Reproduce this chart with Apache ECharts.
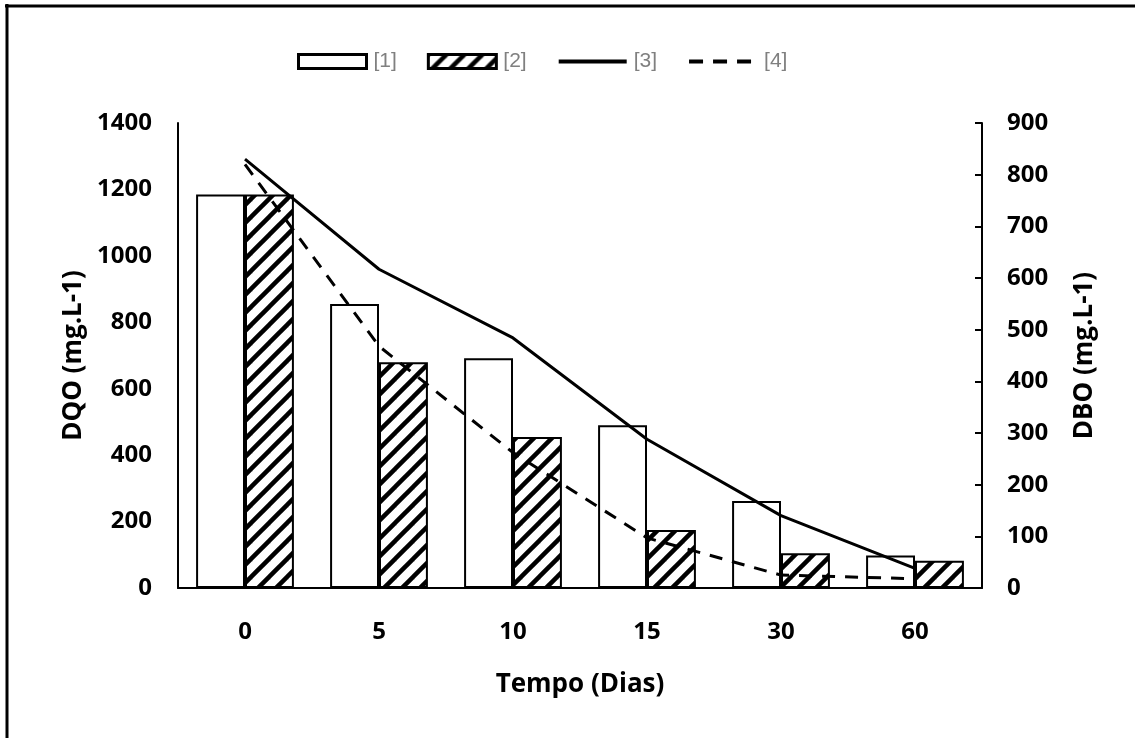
<!DOCTYPE html>
<html>
<head>
<meta charset="utf-8">
<script src="https://cdn.jsdelivr.net/npm/echarts@6/dist/echarts.min.js"></script>
<style>html,body{margin:0;padding:0;background:#fff}#c{width:1135px;height:738px}</style>
</head>
<body>
<div id="c"></div>
<script>
const categories = ['0', '5', '10', '15', '30', '60'];
const dqo1 = [1185, 855, 692, 490, 262, 98];
const dqo2 = [1185, 680, 455, 175, 105, 82];
const dbo3 = [830, 617, 484, 288, 140, 38];
const dbo4 = [820, 468, 262, 97, 25, 18];
const seriesNames = ['[1]', '[2]', '[3]', '[4]'];

const tile = document.createElement('canvas');
tile.width = 18; tile.height = 18;
const g = tile.getContext('2d');
g.fillStyle = '#fff'; g.fillRect(0, 0, 18, 18);
g.strokeStyle = '#000'; g.lineWidth = 4.5;
[[0, 18, 18, 0], [-9, 9, 9, -9], [9, 27, 27, 9]].forEach(p => {
  g.beginPath(); g.moveTo(p[0], p[1]); g.lineTo(p[2], p[3]); g.stroke();
});

const font = 'Open Sans';
const noSep = v => String(v);
const hidden = { color: 'rgba(0,0,0,0)', borderColor: 'rgba(0,0,0,0)', borderWidth: 0 };
const titleStyle = { fontSize: 26, fontWeight: 'bold', fontFamily: font, color: '#000' };
const labelStyle = { fontSize: 24, fontWeight: 'bold', fontFamily: font, color: '#000' };
const chart = echarts.init(document.getElementById('c'));
chart.setOption({
  backgroundColor: '#fff',
  animation: false,
  graphic: [
    { type: 'line', shape: { x1: 7, y1: 4, x2: 7, y2: 738 }, style: { stroke: '#000', lineWidth: 3 } },
    { type: 'line', shape: { x1: 5, y1: 6, x2: 1135, y2: 6 }, style: { stroke: '#000', lineWidth: 3 } }
  ],
  legend: {
    left: 292, top: 46,
    itemWidth: 68, itemHeight: 14, itemGap: 30,
    textStyle: { color: '#808080', fontSize: 21, fontFamily: 'Liberation Sans', padding: [0, 0, 0, 2] },
    data: [
      { name: seriesNames[0], icon: 'rect', itemStyle: { borderWidth: 3 } },
      { name: seriesNames[1], icon: 'rect', itemStyle: { borderWidth: 3 } },
      { name: seriesNames[2], itemStyle: hidden, lineStyle: { width: 4 } },
      { name: seriesNames[3], itemStyle: hidden, lineStyle: { width: 4, type: [14, 10] } }
    ]
  },
  grid: { left: 178, right: 153, top: 123, bottom: 150 },
  xAxis: {
    type: 'category', data: categories,
    name: 'Tempo (Dias)', nameLocation: 'middle', nameGap: 84,
    nameTextStyle: titleStyle,
    axisLine: { lineStyle: { color: '#000', width: 2 } },
    axisTick: { show: false },
    axisLabel: Object.assign({ margin: 32 }, labelStyle)
  },
  yAxis: [
    {
      type: 'value', min: 0, max: 1400, interval: 200,
      name: 'DQO (mg.L-1)', nameLocation: 'middle', nameGap: 87, nameRotate: 90,
      nameTextStyle: titleStyle,
      axisLine: { show: true, lineStyle: { color: '#000', width: 2 } },
      axisTick: { show: false },
      splitLine: { show: false },
      axisLabel: Object.assign({ margin: 26, formatter: noSep }, labelStyle)
    },
    {
      type: 'value', min: 0, max: 900, interval: 100, position: 'right',
      name: 'DBO (mg.L-1)', nameLocation: 'middle', nameGap: 90, nameRotate: 90,
      nameTextStyle: titleStyle,
      axisLine: { show: true, lineStyle: { color: '#000', width: 2 } },
      axisTick: { show: true, inside: true, length: 7, lineStyle: { color: '#000', width: 2 } },
      splitLine: { show: false },
      axisLabel: Object.assign({ margin: 25, formatter: noSep }, labelStyle)
    }
  ],
  series: [
    {
      name: seriesNames[0], type: 'bar', data: dqo1, yAxisIndex: 0,
      barGap: '0%', barCategoryGap: '27%',
      itemStyle: { color: '#fff', borderColor: '#000', borderWidth: 2 }
    },
    {
      name: seriesNames[1], type: 'bar', data: dqo2, yAxisIndex: 0,
      itemStyle: { color: { image: tile, repeat: 'repeat' }, borderColor: '#000', borderWidth: 2 }
    },
    {
      name: seriesNames[2], type: 'line', data: dbo3, yAxisIndex: 1,
      symbol: 'none', z: 5,
      lineStyle: { color: '#000', width: 3 },
      itemStyle: { color: '#000' }
    },
    {
      name: seriesNames[3], type: 'line', data: dbo4, yAxisIndex: 1,
      symbol: 'none', z: 5,
      lineStyle: { color: '#000', width: 3, type: [13, 10] },
      itemStyle: { color: '#000' }
    }
  ]
});
</script>
</body>
</html>
